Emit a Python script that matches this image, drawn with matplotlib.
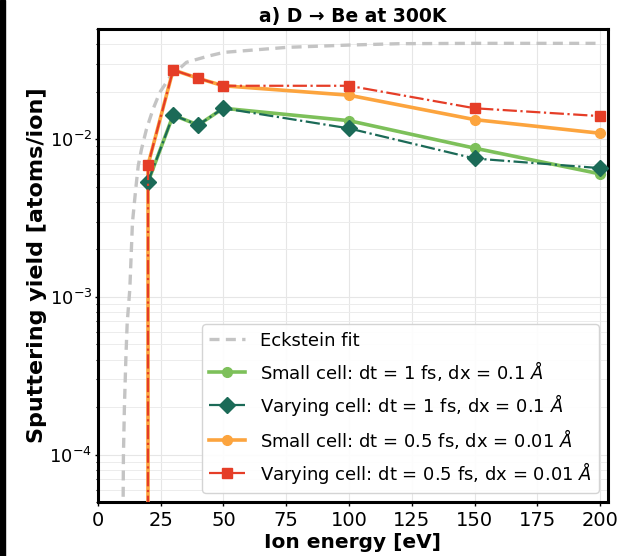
import matplotlib
matplotlib.use('Agg')
import matplotlib.pyplot as plt
from matplotlib.patches import Rectangle

# Eckstein fit
eck_energy = [10.1, 10.2, 10.6, 11.2, 11.7, 12.75, 13.8, 15.1, 16.1, 17.4, 19.4,
              22.0, 24.7, 28.7, 35.3, 43.9, 50.2, 75.3, 100, 120, 150, 200]
eck_yield = [5.4e-5, 9.75e-5, 2.01e-4, 4.18e-4, 6.8e-4, 1.12e-3, 2.96e-3, 4.82e-3,
             6.77e-3, 8.64e-3, 1.16e-2, 1.55e-2, 1.98e-2, 2.47e-2, 3.07e-2, 3.36e-2,
             3.55e-2, 3.82e-2, 3.95e-2, 4.03e-2, 4.05e-2, 4.05e-2]

# MD runs
energy = [20, 30, 40, 50, 100, 150, 200]
energy_zero = [10, 20, 30, 40, 50, 100, 150, 200]

small_1fs = [0.00535, 0.0142, 0.0123, 0.0157, 0.0131, 0.00877, 0.00602]
varying_1fs = [0.00535, 0.0142, 0.0123, 0.0157, 0.0117, 0.00754, 0.00655]
small_05fs = [0.0, 0.00687, 0.0275, 0.0243, 0.0218, 0.0190, 0.0133, 0.0109]
varying_05fs = [0.0, 0.00687, 0.0275, 0.0243, 0.0218, 0.0218, 0.0157, 0.0140]

labels = [
    'Eckstein fit',
    r'Small cell: dt = 1 fs, dx = 0.1 $\AA$',
    r'Varying cell: dt = 1 fs, dx = 0.1 $\AA$',
    r'Small cell: dt = 0.5 fs, dx = 0.01 $\AA$',
    r'Varying cell: dt = 0.5 fs, dx = 0.01 $\AA$',
]

plt.rcParams['font.family'] = ['DejaVu Sans']

fig = plt.figure(figsize=(6.35, 5.56), dpi=100)
ax = fig.add_axes([0.154, 0.097, 0.803, 0.851])

# black strip on the left edge of the original screenshot
fig.patches.append(Rectangle((0, 0), 5 / 635, 1, transform=fig.transFigure,
                             color='black', zorder=10))

ax.plot(eck_energy, eck_yield, color='#c4c4c4', linestyle='--', linewidth=2.4,
        dashes=(3, 1.9), label=labels[0], zorder=2)
ax.plot(energy, small_1fs, color='#7dc05a', marker='o', markersize=7,
        linewidth=2.6, label=labels[1], zorder=3)
ax.plot(energy, varying_1fs, color='#1b6a57', marker='D', markersize=8,
        linewidth=1.6, linestyle='-.', label=labels[2], zorder=4)
ax.plot(energy_zero, small_05fs, color='#fca43e', marker='o', markersize=7,
        linewidth=2.6, label=labels[3], zorder=3)
ax.plot(energy_zero, varying_05fs, color='#e53d27', marker='s', markersize=7.5,
        linewidth=1.6, linestyle='-.', label=labels[4], zorder=4)

ax.set_yscale('log')
ax.set_xlim(0, 203)
ax.set_ylim(5e-5, 5e-2)
ax.set_xticks([0, 25, 50, 75, 100, 125, 150, 175, 200])

ax.grid(True, which='major', color='#e6e6e6', linewidth=0.8)
ax.grid(True, which='minor', axis='y', color='#ececec', linewidth=0.7)
ax.set_axisbelow(True)

for s in ax.spines.values():
    s.set_linewidth(2.2)
    s.set_color('black')

ax.tick_params(axis='x', which='major', labelsize=14, length=3, width=1)
ax.tick_params(axis='y', which='major', labelsize=13, length=2, width=1, pad=2)
ax.tick_params(axis='y', which='minor', length=1.5, width=0.8)

ax.set_title('a) D → Be at 300K', fontsize=13.5, fontweight='bold', pad=5)
ax.set_xlabel('Ion energy [eV]', fontsize=14.5, fontweight='bold', labelpad=2)
ax.set_ylabel('Sputtering yield [atoms/ion]', fontsize=16, fontweight='bold',
              labelpad=2)

ax.legend(loc='lower right', fontsize=13, framealpha=0.9, edgecolor='#d0d0d0',
          borderaxespad=0.5)

fig.savefig('out.png', dpi=100)
plt.close(fig)
